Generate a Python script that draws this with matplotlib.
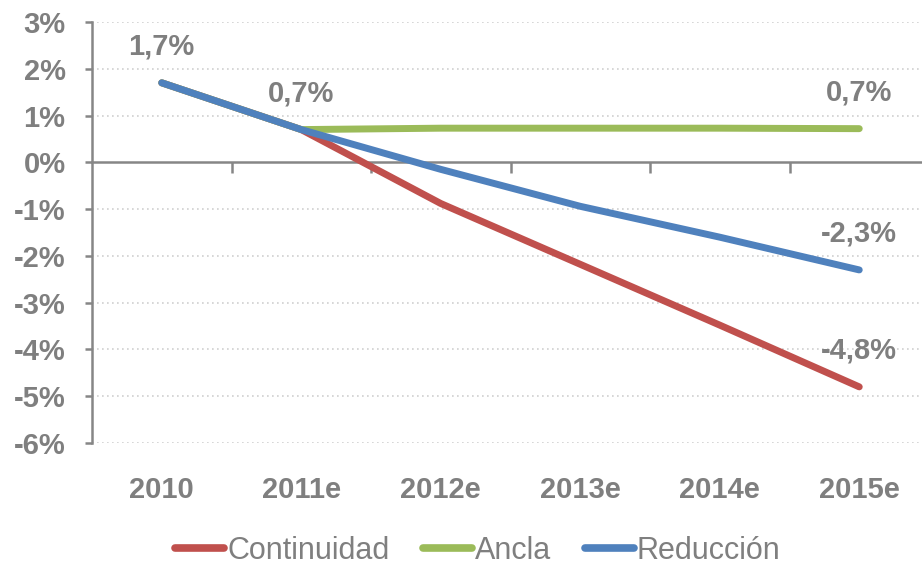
import matplotlib.pyplot as plt
import numpy as np

years = ["2010", "2011e", "2012e", "2013e", "2014e", "2015e"]
continuidad = [1.7, 0.7, -0.88, -2.18, -3.48, -4.8]
ancla = [1.7, 0.7, 0.73, 0.73, 0.73, 0.72]
reduccion = [1.7, 0.7, -0.15, -0.94, -1.6, -2.3]
yticks = [3, 2, 1, 0, -1, -2, -3, -4, -5, -6]

# labels shown on the chart: (series, index, text)
point_labels = [
    (reduccion, 0, "1,7%"),
    (reduccion, 1, "0,7%"),
    (ancla, 5, "0,7%"),
    (reduccion, 5, "-2,3%"),
    (continuidad, 5, "-4,8%"),
]

red = "#C0504D"
green = "#9BBB59"
blue = "#4F81BD"
txt = "#7F7F7F"
axc = "#868686"

plt.rcParams['font.family'] = ['Liberation Sans', 'DejaVu Sans']

fig = plt.figure(figsize=(9.22, 5.69), dpi=100)
ax = fig.add_axes([92/922, 1-443/569, (929-92)/922, (443-22)/569])

x = np.arange(len(years))
ax.plot(x, continuidad, color=red, lw=5, solid_capstyle='round', label="Continuidad", zorder=3)
ax.plot(x, ancla, color=green, lw=5, solid_capstyle='round', label="Ancla", zorder=3)
ax.plot(x, reduccion, color=blue, lw=5, solid_capstyle='round', label="Reducción", zorder=4)

ax.set_xlim(-0.5, 5.5)
ax.set_ylim(-6, 3)

# dotted grid
for v in yticks:
    if v != 0:
        ax.axhline(v, color="#D0D0D0", lw=1.2, ls=(0, (1, 2)), zorder=1)

for s in ['top', 'right']:
    ax.spines[s].set_visible(False)
ax.spines['left'].set_color(axc)
ax.spines['left'].set_linewidth(1.8)
ax.spines['bottom'].set_position(('data', 0))
ax.spines['bottom'].set_color(axc)
ax.spines['bottom'].set_linewidth(1.8)

ax.set_yticks(yticks)
ax.set_yticklabels([f"{v}%" for v in yticks])
ax.tick_params(axis='y', direction='out', length=5, width=1.8, color=axc,
               labelcolor=txt, labelsize=21, pad=14)
for t in ax.get_yticklabels():
    t.set_fontweight('bold')

ax.set_xticks(np.arange(0.5, 5.5, 1.0))
ax.set_xticklabels([])
ax.tick_params(axis='x', direction='out', length=8, width=1.8, color=axc)

# category labels sit at the bottom of the plot area
trans = ax.get_xaxis_transform()
for i, lab in enumerate(years):
    ax.text(i, -0.112, lab, transform=trans, ha='center', va='center',
            fontsize=21, fontweight='bold', color=txt)

for series, i, lab in point_labels:
    ax.annotate(lab, (x[i], series[i]), xytext=(0, 26), textcoords='offset points',
                ha='center', va='center', fontsize=21, fontweight='bold', color=txt)

leg = fig.legend(loc='center', bbox_to_anchor=(478/922, 1-551/569), ncol=3,
                 frameon=False, fontsize=22, handlelength=1.6, handletextpad=0.1,
                 columnspacing=1.1, labelcolor=txt)
for h in leg.get_lines():
    h.set_solid_capstyle('round')
    h.set_linewidth(5.5)

fig.savefig("out.png", dpi=100)
